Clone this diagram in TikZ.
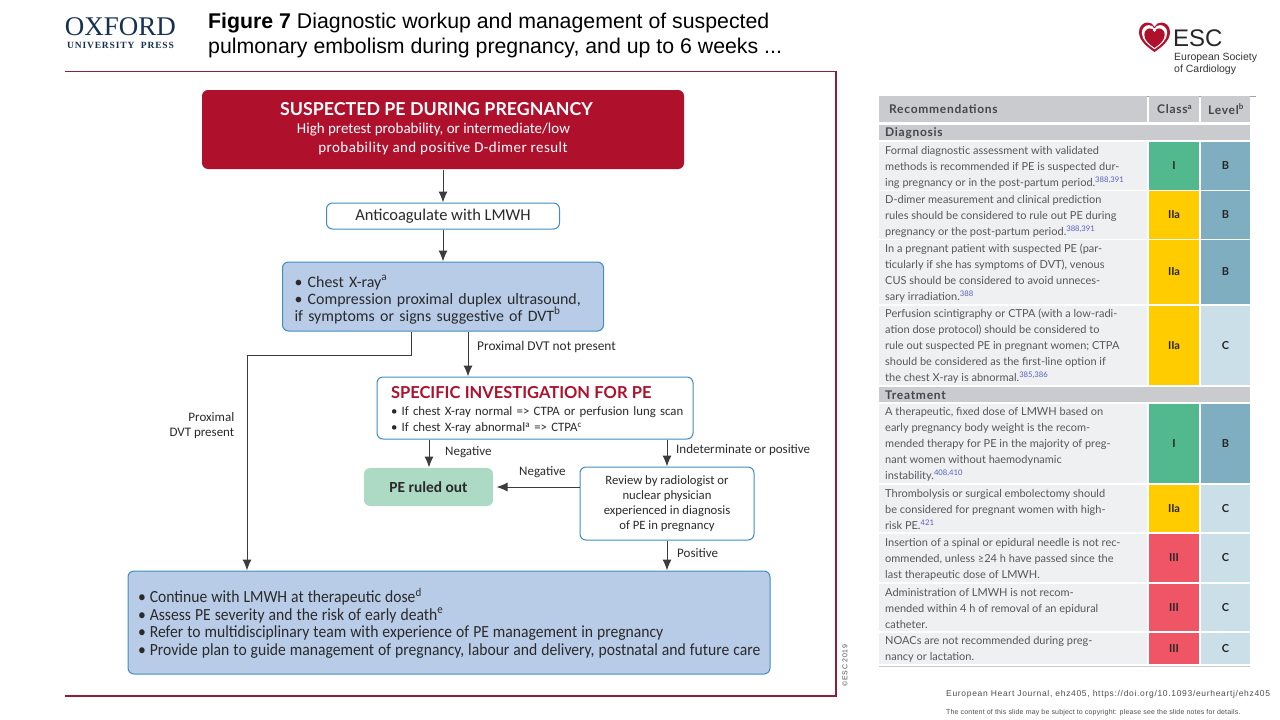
\documentclass[tikz,border=0pt]{standalone}
\usepackage{fontspec}
\setmainfont{Carlito}
\newfontfamily\condfont[FakeStretch=0.92]{Carlito}
\newfontfamily\titlefont{Liberation Sans}
\newfontfamily\logofont{Liberation Serif}
\newfontfamily\pressfont[LetterSpace=9]{Liberation Serif}
\newfontfamily\tablefont{Lato}
\newfontfamily\headfont[LetterSpace=6]{Lato}
\newfontfamily\journalfont[LetterSpace=8]{Liberation Sans}
\newfontfamily\notefont[LetterSpace=2.5]{Liberation Sans}
\newfontfamily\markfont[LetterSpace=10]{Liberation Sans}
\newfontfamily\spacedfont[LetterSpace=3]{Carlito}
\usetikzlibrary{positioning, arrows.meta}

\definecolor{escred}{HTML}{AF102C}
\definecolor{framered}{HTML}{8C2038}
\definecolor{boxline}{HTML}{3F8DBF}
\definecolor{boxblue}{HTML}{B8CCE8}
\definecolor{boxgreen}{HTML}{ACDAC4}
\definecolor{oxfordnavy}{HTML}{16304F}
\definecolor{flowtext}{HTML}{2A2A2A}
\definecolor{arrowgray}{HTML}{3C3C3C}
\definecolor{tabletext}{HTML}{55585B}
\definecolor{rowfill}{HTML}{EEF0F1}
\definecolor{headfill}{HTML}{C9CBCE}
\definecolor{classI}{HTML}{52B98F}
\definecolor{classII}{HTML}{FFCC00}
\definecolor{classIII}{HTML}{EF5565}
\definecolor{levelB}{HTML}{7FAEC0}
\definecolor{levelC}{HTML}{CBDFE8}
\definecolor{refblue}{HTML}{5A5FC0}

\newcommand{\refmark}[1]{\textcolor{refblue}{\textsuperscript{#1}}}

\tikzset{
	flowbox/.style={draw=boxline, line width=1pt, rounded corners=6pt, inner sep=0pt, text=flowtext},
	arrow/.style={draw=arrowgray, line width=1pt, -{Latex[length=11pt, width=9pt]}},
	flowlabel/.style={inner sep=0pt, text=flowtext, font=\fontsize{13}{15}\selectfont},
	rowtext/.style={anchor=west, inner sep=0pt, yshift=-1pt, align=left, text=tabletext, font=\tablefont\fontsize{11}{16}\selectfont},
	headtext/.style={anchor=west, inner sep=0pt, text=tabletext!80!black, font=\headfont\bfseries\fontsize{12}{13}\selectfont},
	classcell/.style={inner sep=0pt, minimum width=50pt, text=black!85, font=\tablefont\bfseries\fontsize{11}{13}\selectfont},
	levelcell/.style={inner sep=0pt, minimum width=49pt, text=black!85, font=\tablefont\bfseries\fontsize{11}{13}\selectfont},
	heartshape/.pic={
		\path[pic actions] (0,15) .. controls (-7,10) and (-15.5,4) .. (-15.5,-5) .. controls (-15.5,-11) and (-11,-14.5) .. (-7,-14.5)
			.. controls (-4,-14.5) and (-1,-13) .. (0,-10) .. controls (1,-13) and (4,-14.5) .. (7,-14.5)
			.. controls (11,-14.5) and (15.5,-11) .. (15.5,-5) .. controls (15.5,4) and (7,10) .. (0,15) -- cycle;
	}
}

\begin{document}
\begin{tikzpicture}[x=1pt, y=-1pt]
	\useasboundingbox (0,0) rectangle (1280,720);

	% Header
	\node[inner sep=0pt, text=oxfordnavy, font=\logofont\fontsize{27}{27}\selectfont] (oxford) at (120.5,27) {OXFORD};
	\node[inner sep=0pt, text=oxfordnavy, font=\pressfont\bfseries\fontsize{9.5}{10}\selectfont] (press) at (120.5,45) {UNIVERSITY\ \ PRESS};
	\node[anchor=north west, inner sep=0pt, align=left, text=black, font=\titlefont\fontsize{21.3}{25}\selectfont] (title) at (208,13)
		{\textbf{Figure 7} Diagnostic workup and management of suspected\\pulmonary embolism during pregnancy, and up to 6 weeks ...};

	\pic[fill=escred] at (1154.5,37) {heartshape};
	\pic[fill=white, scale=0.82] at (1154.5,37) {heartshape};
	\pic[fill=escred, scale=0.66] at (1154.5,38) {heartshape};
	\fill[white] (1154.5,30) circle (1.8pt);
	\node[anchor=west, inner sep=0pt, text=black!85, font=\titlefont\fontsize{24}{24}\selectfont] (esc) at (1173,38) {ESC};
	\node[anchor=north west, inner sep=0pt, align=left, text=black!80, font=\titlefont\fontsize{10.5}{12}\selectfont] (society) at (1174,53)
		{European Society\\of Cardiology};

	% Frame
	\draw[framered, line width=1.5pt] (65,71.5) -- (836,71.5) -- (836,696) -- (65,696);
	\node[rotate=90, inner sep=0pt, text=black!70, font=\markfont\fontsize{7}{8}\selectfont] (copyright) at (845,665.5) {©ESC 2019};

	% Flowchart boxes
	\node[flowbox, draw=none, fill=escred, text=white, minimum width=482pt, minimum height=79pt, align=center, font=\fontsize{15}{18.5}\selectfont] (suspected) at (443,129.5)
		{{\tablefont\bfseries\fontsize{17.8}{18.5}\selectfont SUSPECTED PE DURING PREGNANCY}\hspace*{13pt}\mbox{}\\High pretest probability, or intermediate/low\hspace*{19pt}\mbox{}\\{\spacedfont probability and positive D-dimer result}\rule[-5pt]{0pt}{5pt}};
	\node[flowbox, fill=white, minimum width=233pt, minimum height=26pt, font=\fontsize{16.5}{19}\selectfont] (anticoag) at (443,216) {Anticoagulate with LMWH};
	\node[flowbox, fill=boxblue, minimum width=321pt, minimum height=69pt, text width=297pt, align=left, font=\fontsize{15.9}{17}\selectfont] (chest) at (443,296.5)
		{\rule{0pt}{18pt}• Chest X-ray\textsuperscript{a}\\\mbox{• Compression proximal duplex ultrasound,}\\if symptoms or signs suggestive of DVT\textsuperscript{b}};
	\node[flowbox, fill=white, minimum width=316pt, minimum height=62pt, text width=288pt, align=left, font=\fontsize{12.8}{16}\selectfont] (specific) at (535,408)
		{\rule{0pt}{17pt}{\tablefont\bfseries\fontsize{16.5}{19}\selectfont\textcolor{escred}{SPECIFIC INVESTIGATION FOR PE}}\\[1pt]\mbox{• If chest X-ray normal => CTPA or perfusion lung scan}\\• If chest X-ray abnormal\textsuperscript{a} => CTPA\textsuperscript{c}};
	\node[flowbox, draw=none, fill=boxgreen, minimum width=129pt, minimum height=38pt, font=\bfseries\fontsize{15.4}{16}\selectfont] (ruledout) at (428.5,487) {PE ruled out};
	\node[flowbox, fill=white, minimum width=174pt, minimum height=73pt, align=center, font=\fontsize{12.7}{15}\selectfont] (review) at (667,503.5)
		{Review by radiologist or\\nuclear physician\\experienced in diagnosis\\of PE in pregnancy};
	\node[flowbox, fill=boxblue, minimum width=642pt, minimum height=103pt, text width=622pt, align=left, font=\condfont\fontsize{17}{17.7}\selectfont] (continue) at (449,622.5)
		{\spaceskip=4pt\relax\rule{0pt}{16pt}• Continue with LMWH at therapeutic dose\textsuperscript{d}\\• Assess PE severity and the risk of early death\textsuperscript{e}\\• Refer to multidisciplinary team with experience of PE management in pregnancy\\\mbox{• Provide plan to guide management of pregnancy, labour and delivery, postnatal and future care}};

	% Connectors
	\coordinate (dvtdown) at (411,355);
	\coordinate (dvtleft) at (247,355);
	\coordinate (notpresent) at (468,355);
	\coordinate (negdown) at (429,455);
	\coordinate (reviewdown) at (667,455);
	\draw[arrow] (suspected) -- (anticoag);
	\draw[arrow] (anticoag) -- (chest);
	\draw[arrow] (chest.south -| dvtdown) -- (dvtdown) -- (dvtleft) -- (continue.north -| dvtleft);
	\draw[arrow] (chest.south -| notpresent) -- (specific.north -| notpresent);
	\draw[arrow] (specific.south -| negdown) -- (ruledout.north -| negdown);
	\draw[arrow] (specific.south -| reviewdown) -- (review.north -| reviewdown);
	\draw[arrow, shorten >=3pt] (review.west |- ruledout.east) -- (ruledout.east);
	\draw[arrow] (review.south) -- (continue.north -| review.south);

	% Labels
	\node[flowlabel, anchor=west, font=\fontsize{13.4}{15}\selectfont] (labelabsent) at (477,347) {Proximal DVT not present};
	\node[flowlabel, anchor=east, align=right] (labelpresent) at (234.5,425.5) {Proximal\\DVT present};
	\node[flowlabel, anchor=west] (labelneg) at (445,452) {Negative};
	\node[flowlabel, anchor=west] (labelnegtwo) at (519,472) {Negative};
	\node[flowlabel, anchor=west] (labelindet) at (676,450) {Indeterminate or positive};
	\node[flowlabel, anchor=west] (labelpos) at (677,553) {Positive};

	% Table
	\draw[headfill!80!black, line width=1pt] (879,96) -- (1256,96);
	\fill[headfill] (879,96) rectangle (1147,122);
	\fill[headfill] (1149,96) rectangle (1199,122);
	\fill[headfill] (1201,96) rectangle (1250,122);
	\fill[headfill] (879,125) rectangle (1250,140);
	\fill[headfill] (879,387) rectangle (1250,402);
	\fill[rowfill] (879,142) rectangle (1147,190);
	\fill[rowfill] (879,191) rectangle (1147,239);
	\fill[rowfill] (879,240) rectangle (1147,304);
	\fill[rowfill] (879,306) rectangle (1147,385);
	\fill[rowfill] (879,404) rectangle (1147,483);
	\fill[rowfill] (879,485) rectangle (1147,532);
	\fill[rowfill] (879,534) rectangle (1147,582);
	\fill[rowfill] (879,584) rectangle (1147,631);
	\fill[rowfill] (879,633) rectangle (1147,664);
	\draw[headfill, line width=1.5pt] (879,666.5) -- (1250,666.5);

	\node[headtext] (recs) at (889,109) {Recommendations};
	\node[headtext] (classhead) at (1157,109) {Class\textsuperscript{a}};
	\node[headtext] (levelhead) at (1208,109) {Level\textsuperscript{b}};
	\node[headtext] (diagnosis) at (885,133) {Diagnosis};
	\node[headtext] (treatment) at (885,395) {Treatment};

	\node[rowtext] (rowone) at (885,166) {Formal diagnostic assessment with validated\\methods is recommended if PE is suspected dur-\\ing pregnancy or in the post-partum period.\refmark{388,391}};
	\node[rowtext] (rowtwo) at (885,215) {D-dimer measurement and clinical prediction\\rules should be considered to rule out PE during\\pregnancy or the post-partum period.\refmark{388,391}};
	\node[rowtext] (rowthree) at (885,272) {In a pregnant patient with suspected PE (par-\\ticularly if she has symptoms of DVT), venous\\CUS should be considered to avoid unneces-\\sary irradiation.\refmark{388}};
	\node[rowtext] (rowfour) at (885,345.5) {Perfusion scintigraphy or CTPA (with a low-radi-\\ation dose protocol) should be considered to\\rule out suspected PE in pregnant women; CTPA\\should be considered as the first-line option if\\the chest X-ray is abnormal.\refmark{385,386}};
	\node[rowtext] (rowfive) at (885,443.5) {A therapeutic, fixed dose of LMWH based on\\early pregnancy body weight is the recom-\\mended therapy for PE in the majority of preg-\\nant women without haemodynamic\\instability.\refmark{408,410}};
	\node[rowtext] (rowsix) at (885,508.5) {Thrombolysis or surgical embolectomy should\\be considered for pregnant women with high-\\risk PE.\refmark{421}};
	\node[rowtext] (rowseven) at (885,558) {Insertion of a spinal or epidural needle is not rec-\\ommended, unless ≥24 h have passed since the\\last therapeutic dose of LMWH.};
	\node[rowtext] (roweight) at (885,607.5) {Administration of LMWH is not recom-\\mended within 4 h of removal of an epidural\\catheter.};
	\node[rowtext] (rownine) at (885,648.5) {NOACs are not recommended during preg-\\nancy or lactation.};

	\node[classcell, fill=classI, minimum height=48pt] (classone) at (1174,166) {I};
	\node[classcell, fill=classII, minimum height=48pt] (classtwo) at (1174,215) {IIa};
	\node[classcell, fill=classII, minimum height=64pt] (classthree) at (1174,272) {IIa};
	\node[classcell, fill=classII, minimum height=79pt] (classfour) at (1174,345.5) {IIa};
	\node[classcell, fill=classI, minimum height=79pt] (classfive) at (1174,443.5) {I};
	\node[classcell, fill=classII, minimum height=47pt] (classsix) at (1174,508.5) {IIa};
	\node[classcell, fill=classIII, minimum height=48pt] (classseven) at (1174,558) {III};
	\node[classcell, fill=classIII, minimum height=47pt] (classeight) at (1174,607.5) {III};
	\node[classcell, fill=classIII, minimum height=31pt] (classnine) at (1174,648.5) {III};

	\node[levelcell, fill=levelB, minimum height=48pt] (levelone) at (1225.5,166) {B};
	\node[levelcell, fill=levelB, minimum height=48pt] (leveltwo) at (1225.5,215) {B};
	\node[levelcell, fill=levelB, minimum height=64pt] (levelthree) at (1225.5,272) {B};
	\node[levelcell, fill=levelC, minimum height=79pt] (levelfour) at (1225.5,345.5) {C};
	\node[levelcell, fill=levelB, minimum height=79pt] (levelfive) at (1225.5,443.5) {B};
	\node[levelcell, fill=levelC, minimum height=47pt] (levelsix) at (1225.5,508.5) {C};
	\node[levelcell, fill=levelC, minimum height=48pt] (levelseven) at (1225.5,558) {C};
	\node[levelcell, fill=levelC, minimum height=47pt] (leveleight) at (1225.5,607.5) {C};
	\node[levelcell, fill=levelC, minimum height=31pt] (levelnine) at (1225.5,648.5) {C};

	% Footer
	\node[anchor=west, inner sep=0pt, text=black!70, font=\journalfont\fontsize{8.5}{10}\selectfont] (journal) at (946,694) {European Heart Journal, ehz405, https://doi.org/10.1093/eurheartj/ehz405};
	\node[anchor=west, inner sep=0pt, text=black!70, font=\notefont\fontsize{7}{8}\selectfont] (slidenote) at (946,713) {The content of this slide may be subject to copyright: please see the slide notes for details.};
\end{tikzpicture}
\end{document}
